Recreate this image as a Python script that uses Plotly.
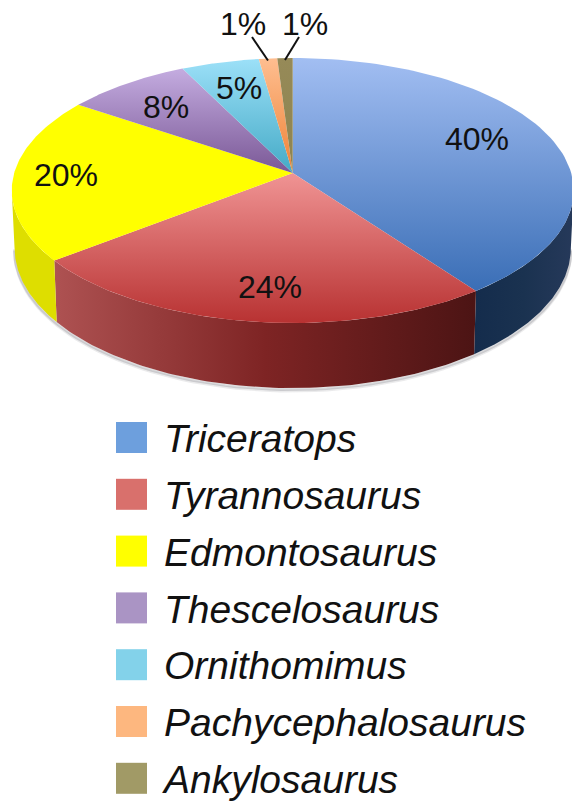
import math
import plotly.graph_objects as go

# ---- data ----
species = ["Triceratops", "Tyrannosaurus", "Edmontosaurus", "Thescelosaurus",
           "Ornithomimus", "Pachycephalosaurus", "Ankylosaurus"]
shares = [40.0, 24.4, 20.1, 8.2, 5.1, 1.2, 1.0]
share_labels = ["40%", "24%", "20%", "8%", "5%", "1%", "1%"]

# ---- styles (listed bottom colour first: the pixel y axis runs downward) ----
top_scales = [["#3A6EB6", "#A2BEF2"], ["#B83232", "#F09494"], ["#FFFF00", "#FFFF00"],
              ["#7A5896", "#C4ACE0"], ["#44AAC6", "#9CE0F8"], ["#EE8236", "#FEBE90"],
              ["#8E8450", "#968A58"]]
wall_scales = {0: ["#142C4C", "#1A3250", "#26395A"],
               1: ["#AE5252", "#7E2424", "#4C1414"],
               2: ["#DEDE00", "#DEDE00", "#DEDE00"]}
swatches = ["#6D9FDD", "#D9706C", "#FFFF00", "#AA94C4", "#83D2EA", "#FDB77F", "#A19A66"]

# ---- pixel-space projection of the tilted disc ----
CX, CY, A, B, K = 292.7, 173.0, 278.5, 130.2, 0.132
DEPTH, BOTTOM_SCALE = 56.5, 0.99
LABEL_FONT, LEGEND_FONT = 32, 39
EDGE = math.degrees(math.acos(-K))


def rim(deg, r=1.0):
    t = math.radians(deg)
    u, v = r * math.sin(t), -r * math.cos(t)
    w = 1 - K * v
    return CX + A * u / w, CY + B * v / w


def low(deg):
    t = math.radians(deg)
    w = 1 + K * math.cos(t)
    x, y = rim(deg)
    return CX + (x - CX) * BOTTOM_SCALE, y + DEPTH / w


def arc(a0, a1, fn=rim, n=80):
    return [fn(a0 + (a1 - a0) * i / n) for i in range(n + 1)]


total = sum(shares)
edges = [0.0]
for s in shares:
    edges.append(edges[-1] + 360.0 * s / total)

fig = go.Figure()


def poly(points, **kw):
    fig.add_trace(go.Scatter(x=[p[0] for p in points], y=[p[1] for p in points],
                             mode="lines", fill="toself", line=dict(width=0),
                             hoverinfo="skip", showlegend=False, **kw))


def stops(cols):
    return [[i / (len(cols) - 1), c] for i, c in enumerate(cols)]


# soft shadow under the lower rim
for extra, alpha in ((3.0, 0.10), (1.5, 0.18)):
    pts = [(x, y + extra) for x, y in arc(EDGE, 360 - EDGE, low)]
    fig.add_trace(go.Scatter(x=[p[0] for p in pts], y=[p[1] for p in pts], mode="lines",
                             line=dict(color=f"rgba(60,60,70,{alpha})", width=3),
                             hoverinfo="skip", showlegend=False))

# side walls
wall_spans = {0: (EDGE, edges[1]), 1: (edges[1], edges[2]), 2: (edges[2], 360 - EDGE)}
for idx, (a0, a1) in wall_spans.items():
    pts = arc(a0, a1) + arc(a1, a0, low)
    poly(pts, fillgradient=dict(type="horizontal", colorscale=stops(wall_scales[idx])))

# top wedges
for i in range(len(shares)):
    pts = [(CX, CY)] + arc(edges[i], edges[i + 1]) + [(CX, CY)]
    poly(pts, fillgradient=dict(type="vertical", colorscale=stops(top_scales[i])))

# leader lines for the two smallest slices
leader_tops = {5: (252, 37), 6: (299, 37)}
for i, (lx, ly) in leader_tops.items():
    mx, my = rim((edges[i] + edges[i + 1]) / 2)
    fig.add_trace(go.Scatter(x=[lx, mx], y=[ly, my + 2], mode="lines",
                             line=dict(color="#111111", width=2),
                             hoverinfo="skip", showlegend=False))

# percentage labels
label_x = [477, 270, 66, 166, 239, 243, 305]
label_y = [142, 290, 178, 110, 91, 27, 27]
fig.add_trace(go.Scatter(x=label_x, y=label_y, mode="text", text=share_labels,
                         textposition="middle center",
                         textfont=dict(family="Liberation Sans", size=LABEL_FONT, color="#111111"),
                         hoverinfo="skip", showlegend=False))

# legend
row = [437.5 + 56.8 * i for i in range(len(species))]
text_row = [y + 5 for y in row]
fig.add_trace(go.Scatter(x=[131.5] * len(species), y=row, mode="markers",
                         marker=dict(symbol="square", size=31, color=swatches,
                                     line=dict(width=0)),
                         hoverinfo="skip", showlegend=False))
fig.add_trace(go.Scatter(x=[164] * len(species), y=text_row, mode="text", text=species,
                         textposition="middle right",
                         textfont=dict(family="Liberation Sans", size=LEGEND_FONT,
                                       style="italic", color="#111111"),
                         hoverinfo="skip", showlegend=False))

fig.update_layout(width=572, height=801, margin=dict(l=0, r=0, t=0, b=0),
                  paper_bgcolor="white", plot_bgcolor="white",
                  xaxis=dict(range=[0, 572], visible=False, fixedrange=True),
                  yaxis=dict(range=[801, 0], visible=False, fixedrange=True))
fig.write_html("out.html", config={"displayModeBar": False},
               post_script="document.body.style.margin='0';")
